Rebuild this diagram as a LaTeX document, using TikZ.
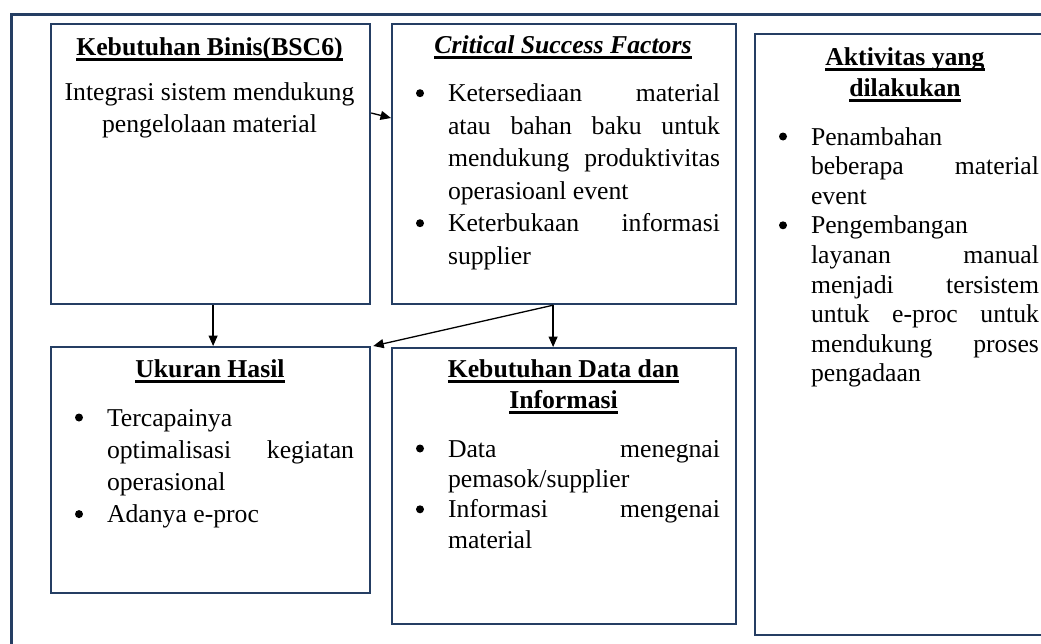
\documentclass[tikz,border=0pt]{standalone}
\usepackage{fontspec}
\setmainfont{Liberation Serif}
\usetikzlibrary{arrows.meta,calc}

\definecolor{frameblue}{RGB}{37,62,99}

% text helpers
\newsavebox\undlbox
\newcommand\undl[1]{\sbox\undlbox{#1}\rlap{\rule[-5.7pt]{\wd\undlbox}{2.6pt}}\usebox\undlbox}
\newlength\linew
\newcommand\jline[1]{\hbox to\linew{#1}}
\newcommand\lline[1]{\hbox{#1}}
\newcommand\ctrline[1]{\hbox to 0pt{\hss#1\hss}}
% round list bullet, centred 28pt left of the item text
\newcommand\bul{\llap{\tikz[baseline=0pt]\fill[black] (0pt,8.5pt) circle (4pt);\hspace{24pt}}}

\tikzset{
  box/.style={draw=frameblue, line width=2.2pt, rectangle, anchor=north west, inner sep=0pt},
  outerframe/.style={draw=frameblue, line width=3pt, rectangle, anchor=north west, inner sep=0pt},
  txt/.style={inner sep=0pt, outer sep=0pt, text=black},
  arr/.style={draw=black, line width=1.3pt, -{Triangle[length=10.5pt,width=9pt]}},
}

\begin{document}
\begin{tikzpicture}[x=1pt, y=-1pt]
  \useasboundingbox (0,0) rectangle (1041,643);
  \clip (0,0) rectangle (1041,643);

  % surrounding frame
  \node[outerframe, minimum width=1070pt, minimum height=670pt] (outer) at (9.5,13) {};

  % boxes
  \node[box, minimum width=319pt, minimum height=280pt] (b1) at (50,23) {};
  \node[box, minimum width=344pt, minimum height=280pt] (b2) at (391,23) {};
  \node[box, minimum width=319pt, minimum height=246pt] (b3) at (50,346) {};
  \node[box, minimum width=344pt, minimum height=276pt] (b4) at (391,347) {};
  \node[box, minimum width=310pt, minimum height=601pt] (b5) at (754,33) {};

  % titles
  \node[txt, anchor=base, font=\fontsize{25.7}{31}\selectfont\bfseries] (t1) at (209.5,55)
    {\undl{Kebutuhan Binis(BSC6)}};
  \node[txt, anchor=base, font=\fontsize{25.7}{31}\selectfont\bfseries\itshape] (t2) at (563,53.3)
    {\undl{Critical Success Factors}};
  \node[txt, anchor=base, font=\fontsize{25.7}{31}\selectfont\bfseries] (t3) at (210,377)
    {\undl{Ukuran Hasil}};
  \node[txt, anchor=base west, font=\fontsize{25.7}{31}\selectfont\bfseries] (t4) at (563,377)
    {\vtop{\ctrline{\undl{Kebutuhan Data dan}}\ctrline{\undl{Informasi}}}};
  \node[txt, anchor=base west, font=\fontsize{25.7}{31}\selectfont\bfseries] (t5) at (904.5,65)
    {\vtop{\ctrline{\undl{Aktivitas yang}}\ctrline{\undl{dilakukan}}}};

  % box contents
  \node[txt, anchor=base west, font=\fontsize{25.7}{32}\selectfont] (c1) at (209,100)
    {\vtop{\ctrline{Integrasi sistem mendukung}\ctrline{pengelolaan material}}};

  \node[txt, anchor=base west, font=\fontsize{25.7}{32.5}\selectfont] (c2) at (448,101.7)
    {\setlength\linew{272pt}\vtop{%
      \jline{\bul Ketersediaan\hfill material}
      \jline{atau\hfill bahan\hfill baku\hfill untuk}
      \jline{mendukung\hfill produktivitas}
      \lline{operasioanl event}
      \jline{\bul Keterbukaan\hfill informasi}
      \lline{supplier}}};

  \node[txt, anchor=base west, font=\fontsize{25.7}{32.2}\selectfont] (c3) at (107,426)
    {\setlength\linew{247pt}\vtop{%
      \lline{\bul Tercapainya}
      \jline{optimalisasi\hfill kegiatan}
      \lline{operasional}
      \lline{\bul Adanya e-proc}}};

  \node[txt, anchor=base west, font=\fontsize{25.7}{30.4}\selectfont] (c4) at (448,457)
    {\setlength\linew{272pt}\vtop{%
      \jline{\bul Data\hfill menegnai}
      \lline{pemasok/supplier}
      \jline{\bul Informasi\hfill mengenai}
      \lline{material}}};

  \node[txt, anchor=base west, font=\fontsize{25.7}{29.6}\selectfont] (c5) at (811,145)
    {\setlength\linew{228pt}\vtop{%
      \lline{\bul Penambahan}
      \jline{beberapa\hfill material}
      \lline{event}
      \lline{\bul Pengembangan}
      \jline{layanan\hfill manual}
      \jline{menjadi\hfill tersistem}
      \jline{untuk\hfill e-proc\hfill untuk}
      \jline{mendukung\hfill proses}
      \lline{pengadaan}}};

  % connectors
  \draw[arr] ([yshift=-90pt]b1.north east) -- ([yshift=-95pt]b2.north west);
  \draw[arr] ([xshift=2.5pt]b1.south) -- ([xshift=2.5pt]b3.north);
  \coordinate (fork) at ([xshift=-11pt]b2.south);
  \draw[arr] (fork) -- (fork |- b4.north);
  \draw[arr] (fork) -- ([xshift=2pt]b3.north east);
\end{tikzpicture}
\end{document}
